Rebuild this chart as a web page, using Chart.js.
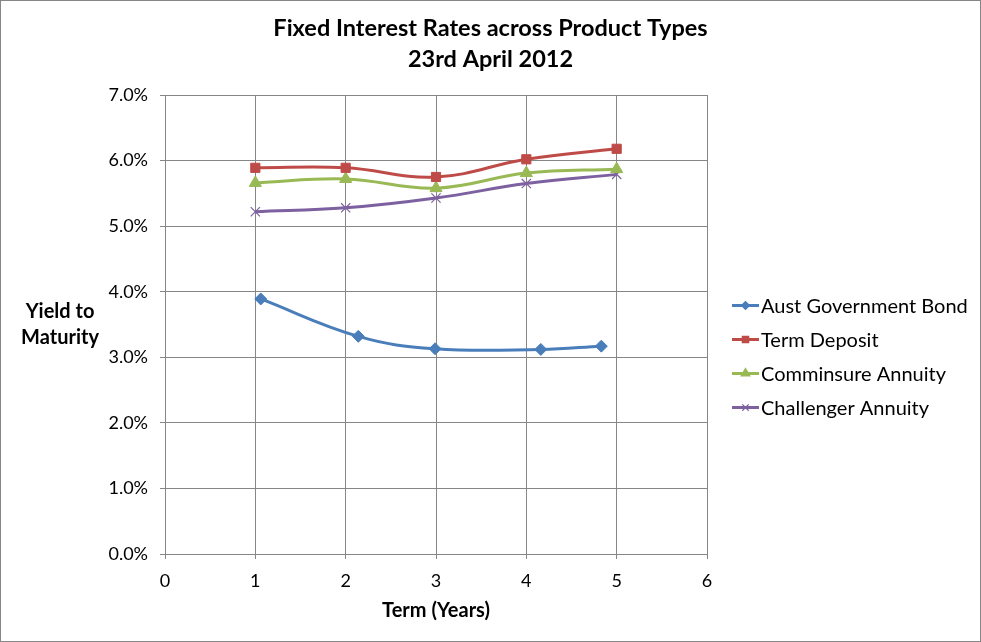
<!DOCTYPE html>
<html>
<head>
<meta charset="utf-8">
<script src="https://cdn.jsdelivr.net/npm/chart.js@4.4.1/dist/chart.umd.min.js"></script>
<style>
  html, body { margin: 0; padding: 0; background: #fff; }
  #wrap { width: 981px; height: 642px; box-sizing: border-box; border: 1px solid #868686; }
</style>
</head>
<body>
<div id="wrap"><canvas id="chart"></canvas></div>
<script>
// values (term in years, yield in %)
const seriesNames = ['Aust Government Bond', 'Term Deposit', 'Comminsure Annuity', 'Challenger Annuity'];
const bondTerms = [1.06, 2.14, 2.99, 4.16, 4.83];
const bondYields = [3.89, 3.32, 3.13, 3.12, 3.17];
const depositTerms = [1, 2, 3, 4, 5];
const depositYields = [5.89, 5.89, 5.75, 6.02, 6.18];
const comminsureTerms = [1, 2, 3, 4, 5];
const comminsureYields = [5.66, 5.72, 5.58, 5.81, 5.87];
const challengerTerms = [1, 2, 3, 4, 5];
const challengerYields = [5.22, 5.28, 5.43, 5.65, 5.79];
const xTicks = [0, 1, 2, 3, 4, 5, 6];
const yTicks = [0, 1, 2, 3, 4, 5, 6, 7];

const colors = ['#4A7EBB', '#BE4B48', '#98B954', '#7D60A0'];
const styles = ['rectRot', 'rect', 'triangle', 'crossRot'];
const radii = [6, 6.5, 7, 6.5];
const FONT = 'Lato, "Open Sans", sans-serif';

function pts(xs, ys) {
    return xs.map((x, i) => ({x: x, y: ys[i]}));
}

// horizontal y-axis title and the legend on the right
const sideItems = {
    id: 'sideItems',
    afterDraw(chart) {
        const ctx = chart.ctx;
        const y = chart.scales.y;
        const mid = (y.top + y.bottom) / 2;
        ctx.save();
        ctx.font = 'bold 20px ' + FONT;
        ctx.fillStyle = '#000';
        ctx.textAlign = 'center';
        ctx.textBaseline = 'middle';
        ctx.fillText('Yield to', 59, mid - 13);
        ctx.fillText('Maturity', 59, mid + 13);

        const x0 = chart.chartArea.right + 25;
        const rowH = 34;
        const top = mid - 19;
        ctx.font = '20px ' + FONT;
        ctx.textAlign = 'left';
        chart.data.datasets.forEach((ds, i) => {
            const ry = top + i * rowH;
            ctx.strokeStyle = ds.borderColor;
            ctx.lineWidth = 3;
            ctx.beginPath();
            ctx.moveTo(x0, ry);
            ctx.lineTo(x0 + 27, ry);
            ctx.stroke();
            ctx.fillStyle = ds.borderColor;
            ctx.lineWidth = 1.2;
            Chart.helpers.drawPoint(ctx, {pointStyle: ds.pointStyle, radius: ds.pointRadius - 2, borderWidth: 1.2}, x0 + 13.5, ry);
            ctx.fillStyle = '#000';
            ctx.fillText(ds.label, x0 + 29, ry + 1);
        });
        ctx.restore();
    }
};

const allData = [pts(bondTerms, bondYields), pts(depositTerms, depositYields),
    pts(comminsureTerms, comminsureYields), pts(challengerTerms, challengerYields)];

const datasets = seriesNames.map((name, i) => ({
    label: name,
    data: allData[i],
    showLine: true,
    borderColor: colors[i],
    backgroundColor: colors[i],
    borderWidth: 3,
    tension: 0.4,
    pointStyle: styles[i],
    pointRadius: radii[i],
    pointBorderWidth: i === 3 ? 1.2 : 1,
    pointBorderColor: colors[i],
    pointBackgroundColor: colors[i]
}));

new Chart(document.getElementById('chart'), {
    type: 'scatter',
    data: {datasets: datasets},
    plugins: [sideItems],
    options: {
        responsive: true,
        maintainAspectRatio: false,
        animation: false,
        layout: {padding: {left: 0, right: 0, top: 0, bottom: 20}},
        plugins: {
            tooltip: {enabled: false},
            legend: {display: false},
            title: {
                display: true,
                text: ['Fixed Interest Rates across Product Types', '23rd April 2012'],
                color: '#000',
                font: {family: FONT, size: 23.5, weight: 'bold', lineHeight: 1.32},
                padding: {top: 11.5, bottom: 20.5}
            }
        },
        scales: {
            x: {
                type: 'linear',
                min: 0,
                max: 6,
                afterBuildTicks(axis) { axis.ticks = xTicks.map(v => ({value: v})); },
                grid: {color: '#868686', tickLength: 5, lineWidth: 1},
                border: {color: '#868686'},
                ticks: {color: '#000', font: {family: FONT, size: 18, lineHeight: 1.0}, padding: 13},
                title: {
                    display: true,
                    text: 'Term (Years)',
                    color: '#000',
                    font: {family: FONT, size: 20, weight: 'bold', lineHeight: 1.0},
                    padding: {top: -2, bottom: 0}
                }
            },
            y: {
                min: 0,
                max: 7,
                afterBuildTicks(axis) { axis.ticks = yTicks.map(v => ({value: v})); },
                afterFit(axis) { axis.width = 164; },
                grid: {color: '#868686', tickLength: 5, lineWidth: 1},
                border: {color: '#868686'},
                ticks: {
                    color: '#000',
                    font: {family: FONT, size: 18},
                    padding: 12,
                    callback: v => v.toFixed(1) + '%'
                }
            },
            // empty box on the right that keeps room for the legend
            side: {
                type: 'linear',
                position: 'right',
                display: true,
                afterFit(axis) { axis.width = 273; },
                grid: {display: false},
                border: {display: false},
                ticks: {display: false}
            }
        }
    }
});
</script>
</body>
</html>
